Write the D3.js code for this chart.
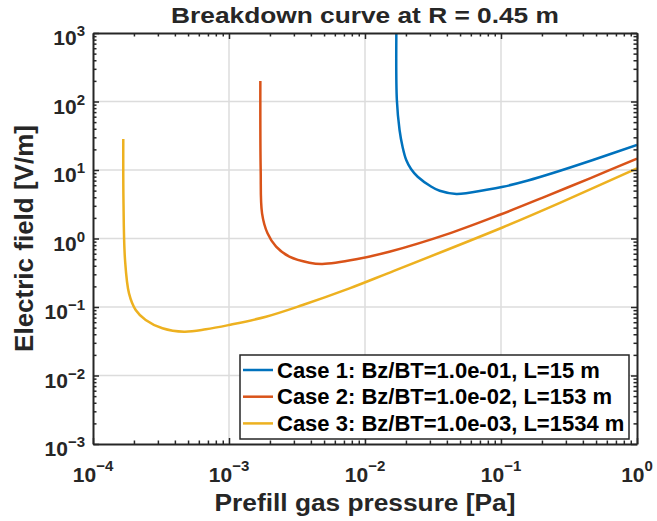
<!DOCTYPE html>
<html lang="en">
<head>
<meta charset="UTF-8">
<title>Breakdown curve</title>
<script src="https://cdn.jsdelivr.net/npm/d3@7"></script>
<style>
  body { margin: 0; background: #fff; }
  text { font-family: 'Liberation Sans', Arial, sans-serif; font-weight: bold; fill: #262626; }
  .axis path, .axis line { stroke: #262626; }
</style>
</head>
<body>
<svg width="657" height="521"></svg>
<script>
// values
var caseLabels = [
  "Case 1: Bz/BT=1.0e-01, L=15 m",
  "Case 2: Bz/BT=1.0e-02, L=153 m",
  "Case 3: Bz/BT=1.0e-03, L=1534 m"
];
var case1P = [0.0170, 0.01715, 0.01795, 0.0189, 0.0201, 0.0218, 0.0244, 0.0308, 0.0354, 0.047, 0.0785, 0.1035, 0.158, 0.241, 0.474, 1.0];
var case1E = [1000, 105, 38.4, 21.7, 14.0, 10.35, 7.98, 5.70, 4.97, 4.47, 5.14, 5.69, 7.03, 9.04, 14.0, 23.2];
var case2P = [0.00170, 0.00171, 0.00175, 0.00192, 0.00222, 0.00278, 0.00390, 0.00486, 0.00861, 0.0151, 0.0419, 0.098, 0.216, 0.451, 1.0];
var case2E = [199, 10, 2.33, 1.19, 0.759, 0.542, 0.443, 0.425, 0.497, 0.641, 1.19, 2.22, 4.16, 7.57, 14.7];
var case3P = [1.67e-4, 1.675e-4, 1.72e-4, 1.84e-4, 2.06e-4, 2.44e-4, 3.24e-4, 4.68e-4, 6.76e-4, 1.0e-3, 1.87e-3, 3.48e-3, 7.69e-3, 0.0147, 0.1035, 0.271, 1.0];
var case3E = [28.4, 3.65, 0.485, 0.158, 0.0904, 0.0646, 0.0489, 0.0436, 0.0472, 0.0546, 0.0722, 0.107, 0.187, 0.310, 1.46, 3.31, 10.6];
var xTickExps = [-4, -3, -2, -1, 0];
var yTickExps = [-3, -2, -1, 0, 1, 2, 3];
var colors = ["#0072BD", "#D95319", "#EDB120"];

var svg = d3.select("svg"),
    margin = {top: 33, right: 20, bottom: 77, left: 93},
    width = 657 - margin.left - margin.right,
    height = 521 - margin.top - margin.bottom;

var x = d3.scaleLog().domain([1e-4, 1]).range([0, width]);
var y = d3.scaleLog().domain([1e-3, 1e3]).range([height, 0]);

var g = svg.append("g").attr("transform", "translate(" + margin.left + "," + margin.top + ")");

g.append("clipPath").attr("id", "clip")
  .append("rect").attr("width", width).attr("height", height);

// minor tick values
function minors(lo, hi) {
  var out = [];
  for (var e = lo; e < hi; e++) {
    for (var k = 2; k <= 9; k++) out.push(k * Math.pow(10, e));
  }
  return out;
}
var xMajor = xTickExps.map(function(e) { return Math.pow(10, e); });
var yMajor = yTickExps.map(function(e) { return Math.pow(10, e); });

// grid
g.append("g").selectAll("line").data(xMajor.slice(1, -1)).enter().append("line")
  .attr("x1", x).attr("x2", x).attr("y1", 0).attr("y2", height)
  .attr("stroke", "#dcdcdc").attr("stroke-width", 1.5);
g.append("g").selectAll("line").data(yMajor.slice(1, -1)).enter().append("line")
  .attr("y1", y).attr("y2", y).attr("x1", 0).attr("x2", width)
  .attr("stroke", "#dcdcdc").attr("stroke-width", 1.5);

// curves
var line = d3.line()
  .x(function(d) { return x(d[0]); })
  .y(function(d) { return y(d[1]); })
  .curve(d3.curveCatmullRom.alpha(0.5));

var series = [d3.zip(case1P, case1E), d3.zip(case2P, case2E), d3.zip(case3P, case3E)];
g.append("g").attr("clip-path", "url(#clip)")
  .selectAll("path").data(series).enter().append("path")
  .attr("d", line)
  .attr("fill", "none")
  .attr("stroke", function(d, i) { return colors[i]; })
  .attr("stroke-width", 2.5);

// axes with inward ticks on all four sides
function drawAxis(axisFn, scale, tx, ty, dir) {
  var a = g.append("g").attr("class", "axis").attr("transform", "translate(" + tx + "," + ty + ")");
  a.call(axisFn(scale).tickValues(dir === "x" ? minors(-4, 0) : minors(-3, 3)).tickSize(-3.5).tickSizeOuter(0).tickFormat(""));
  a.call(function(s) {
    var b = s.append("g");
    b.call(axisFn(scale).tickValues(dir === "x" ? xMajor : yMajor).tickSize(-6).tickSizeOuter(0).tickFormat(""));
    b.select(".domain").remove();
  });
  a.selectAll("line").attr("stroke-width", 1.5);
  a.select(".domain").attr("stroke-width", 2);
}
drawAxis(d3.axisBottom, x, 0, height, "x");
drawAxis(d3.axisTop, x, 0, 0, "x");
drawAxis(d3.axisLeft, y, 0, 0, "y");
drawAxis(d3.axisRight, y, width, 0, "y");

// tick labels
var xl = g.append("g").selectAll("text").data(xTickExps).enter().append("text")
  .attr("x", function(d) { return x(Math.pow(10, d)); })
  .attr("y", height + 38)
  .attr("text-anchor", "middle")
  .style("font-size", "21px");
xl.append("tspan").text("10");
xl.append("tspan").attr("dy", -11).style("font-size", "15px")
  .text(function(d) { return String(d).replace("-", "\u2212"); });

var yl = g.append("g").selectAll("text").data(yTickExps).enter().append("text")
  .attr("x", -8)
  .attr("y", function(d) { return y(Math.pow(10, d)) + 12; })
  .attr("text-anchor", "end")
  .style("font-size", "21px");
yl.append("tspan").text("10");
yl.append("tspan").attr("dy", -9).style("font-size", "15px")
  .text(function(d) { return String(d).replace("-", "\u2212"); });

// title and axis labels
svg.append("text")
  .attr("transform", "translate(" + (margin.left + width / 2) + ",23) scale(1,0.82)")
  .attr("text-anchor", "middle").style("font-size", "26.3px")
  .text("Breakdown curve at R = 0.45 m");
svg.append("text")
  .attr("transform", "translate(" + (margin.left + width / 2) + ",511) scale(1,0.89)")
  .attr("text-anchor", "middle").style("font-size", "26.3px")
  .text("Prefill gas pressure [Pa]");
svg.append("text")
  .attr("transform", "translate(33," + (margin.top + height / 2) + ") rotate(-90)")
  .attr("text-anchor", "middle").style("font-size", "26px")
  .text("Electric field [V/m]");

// legend
var legend = svg.append("g").attr("transform", "translate(240,355)");
legend.append("rect").attr("width", 389).attr("height", 84)
  .attr("fill", "#fff").attr("stroke", "#262626").attr("stroke-width", 1.5);
var rows = legend.selectAll(".row").data(caseLabels).enter().append("g")
  .attr("transform", function(d, i) { return "translate(0," + (15 + i * 26.7) + ")"; });
rows.append("line").attr("x1", 3).attr("x2", 33)
  .attr("stroke", function(d, i) { return colors[i]; }).attr("stroke-width", 2.5);
rows.append("text").attr("x", 37).attr("y", 7.5).style("font-size", "22px").style("fill", "#000")
  .text(function(d) { return d; });
</script>
</body>
</html>
